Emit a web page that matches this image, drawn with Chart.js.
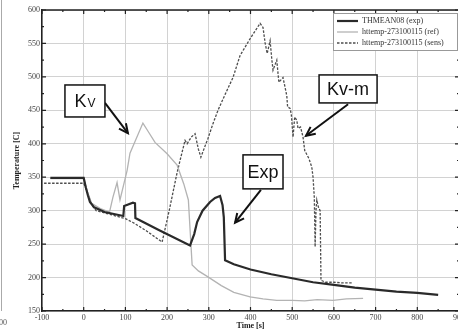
<!DOCTYPE html>
<html>
<head>
<meta charset="utf-8">
<script src="https://cdn.jsdelivr.net/npm/chart.js@4.4.1/dist/chart.umd.min.js"></script>
<style>
  html, body { margin: 0; padding: 0; background: #fff; overflow: hidden; }
  #wrap { width: 466px; height: 334px; }
</style>
</head>
<body>
<div id="wrap"><canvas id="tempChart" width="466" height="334"></canvas></div>
<script>
// values (time in s, temperature in C)
var expTime  = [-80, 0, 5, 10, 15, 25, 50, 95, 97, 118, 123, 124, 180, 255, 265, 272, 285, 303, 315, 327, 333, 336, 339, 360, 400, 450, 500, 550, 600, 650, 700, 750, 800, 850]
var expTemp  = [349, 349, 335, 323, 313, 305, 298, 292, 307, 312, 311, 289, 271, 248, 265, 283, 300, 313, 319, 322, 308, 290, 226, 220, 212, 205, 199, 193, 189, 185, 182, 179, 177, 174]

var refTime  = [-80, 0, 8, 19, 40, 62, 70, 80, 87, 104, 111, 142, 155, 171, 200, 224, 240, 251, 257, 260, 275, 298, 330, 360, 399, 430, 463, 500, 530, 560, 598, 630, 670]
var refTemp  = [348, 348, 330, 311, 303, 298, 320, 342, 316, 360, 386, 431, 418, 402, 385, 368, 340, 316, 251, 219, 210, 201, 188, 178, 171, 168, 166, 166, 165, 167, 166, 168, 169]

var sensTime = [-95, 0, 10, 20, 30, 60, 100, 119, 150, 188, 205, 224, 235, 243, 248, 258, 267, 275, 281, 290, 298, 310, 322, 340, 358, 375, 399, 423, 430, 435, 440, 447, 451, 454, 463, 468, 478, 487, 489, 495, 498, 502, 506, 511, 514, 520, 526, 530, 540, 547, 550, 553, 555, 557, 559, 563, 567, 569, 580, 600, 620, 645]
var sensTemp = [341, 341, 325, 308, 300, 295, 288, 282, 270, 253, 300, 357, 385, 405, 400, 410, 415, 392, 380, 395, 408, 430, 450, 475, 499, 532, 557, 580, 574, 551, 535, 554, 527, 510, 525, 492, 499, 472, 455, 453, 443, 410, 440, 435, 423, 425, 410, 390, 378, 365, 350, 320, 246, 300, 316, 305, 300, 196, 193, 193, 192, 192]

var seriesNames = ['THMEAN08 (exp)', 'httemp-273100115 (ref)', 'httemp-273100115 (sens)']

// call-out boxes, anchored in data units
var callouts = [
  { text: 'K', sub: 'V', cx: 3, cy: 464, w: 40, h: 32, tailX: 51, tailY: 461, tipX: 106, tipY: 416 },
  { text: 'Exp', cx: 430, cy: 358, w: 40, h: 34, tailX: 425, tailY: 331, tipX: 363, tipY: 282 },
  { text: 'Kv-m', cx: 634, cy: 482, w: 58, h: 28, tailX: 634, tailY: 459, tipX: 533, tipY: 412 }
]

function pts(xs, ys) {
  return xs.map(function (x, i) { return { x: x, y: ys[i] } })
}

var serif = 'Liberation Serif'

// inward tick marks on the frame + top/right border
var frameTicks = {
  id: 'frameTicks',
  afterDraw: function (chart) {
    var ctx = chart.ctx, a = chart.chartArea
    var xs = chart.scales.x, ys = chart.scales.y
    ctx.save()
    ctx.strokeStyle = '#222'
    ctx.lineWidth = 1.3
    ctx.beginPath()
    ctx.moveTo(a.left, a.top); ctx.lineTo(a.right, a.top); ctx.lineTo(a.right, a.bottom)
    ctx.stroke()
    ctx.lineWidth = 1.2
    ctx.beginPath()
    xs.ticks.forEach(function (t) {
      var px = xs.getPixelForValue(t.value)
      var len = t.value % 100 === 0 ? 4 : 2
      ctx.moveTo(px, a.bottom); ctx.lineTo(px, a.bottom - len)
      ctx.moveTo(px, a.top); ctx.lineTo(px, a.top + len)
    })
    ys.ticks.forEach(function (t) {
      var py = ys.getPixelForValue(t.value)
      var len = t.value % 50 === 0 ? 4 : 2
      ctx.moveTo(a.left, py); ctx.lineTo(a.left + len, py)
      ctx.moveTo(a.right, py); ctx.lineTo(a.right - len, py)
    })
    ctx.stroke()

    // cropped neighbour figure edge
    ctx.strokeStyle = '#aaa'
    ctx.lineWidth = 1
    ctx.beginPath(); ctx.moveTo(1.5, 0); ctx.lineTo(1.5, 311); ctx.stroke()
    ctx.fillStyle = '#555'
    ctx.font = '8px ' + serif
    ctx.textBaseline = 'middle'
    ctx.fillText('00', -1, 323)
    ctx.restore()
  }
}

// legend box in the upper right corner
var boxLegend = {
  id: 'boxLegend',
  afterDraw: function (chart) {
    var ctx = chart.ctx, a = chart.chartArea
    var w = 124, h = 37
    var left = a.right - 2 - w, top = a.top + 3
    ctx.save()
    ctx.fillStyle = '#fff'
    ctx.fillRect(left, top, w, h)
    ctx.strokeStyle = '#999'
    ctx.lineWidth = 1
    ctx.strokeRect(left + 0.5, top + 0.5, w, h)
    chart.data.datasets.forEach(function (ds, i) {
      var y = top + 8 + i * 11
      ctx.strokeStyle = ds.borderColor
      ctx.lineWidth = ds.borderWidth
      ctx.setLineDash(ds.borderDash || [])
      ctx.beginPath(); ctx.moveTo(left + 4, y); ctx.lineTo(left + 25, y); ctx.stroke()
      ctx.setLineDash([])
      ctx.fillStyle = '#333'
      ctx.font = '8px ' + serif
      ctx.textBaseline = 'middle'
      ctx.fillText(ds.label, left + 29, y)
    })
    ctx.restore()
  }
}

// labelled boxes with arrows
var calloutPlugin = {
  id: 'calloutPlugin',
  afterDraw: function (chart) {
    var ctx = chart.ctx, xs = chart.scales.x, ys = chart.scales.y
    ctx.save()
    callouts.forEach(function (c) {
      var cx = xs.getPixelForValue(c.cx), cy = ys.getPixelForValue(c.cy)
      var x0 = xs.getPixelForValue(c.tailX), y0 = ys.getPixelForValue(c.tailY)
      var x1 = xs.getPixelForValue(c.tipX), y1 = ys.getPixelForValue(c.tipY)
      // arrow
      ctx.strokeStyle = '#111'
      ctx.lineWidth = 2
      ctx.beginPath(); ctx.moveTo(x0, y0); ctx.lineTo(x1, y1); ctx.stroke()
      var ang = Math.atan2(y1 - y0, x1 - x0), hl = 10, spread = 0.45
      ctx.beginPath()
      ctx.moveTo(x1 - hl * Math.cos(ang - spread), y1 - hl * Math.sin(ang - spread))
      ctx.lineTo(x1, y1)
      ctx.lineTo(x1 - hl * Math.cos(ang + spread), y1 - hl * Math.sin(ang + spread))
      ctx.stroke()
      // box
      ctx.fillStyle = '#fff'
      ctx.fillRect(cx - c.w / 2, cy - c.h / 2, c.w, c.h)
      ctx.lineWidth = 1.5
      ctx.strokeRect(cx - c.w / 2, cy - c.h / 2, c.w, c.h)
      ctx.fillStyle = '#111'
      ctx.textBaseline = 'alphabetic'
      ctx.font = '18px Liberation Sans'
      var tw = ctx.measureText(c.text).width
      var sw = 0
      if (c.sub) {
        ctx.font = '12px Liberation Sans'
        sw = ctx.measureText(c.sub).width + 1
      }
      var startX = cx - (tw + sw) / 2, base = cy + 6.5
      ctx.font = '18px Liberation Sans'
      ctx.fillText(c.text, startX, base)
      if (c.sub) {
        ctx.font = '12px Liberation Sans'
        ctx.fillText(c.sub, startX + tw + 1, base)
      }
    })
    ctx.restore()
  }
}

var chartData = {
  datasets: [
    {
      label: seriesNames[0],
      data: pts(expTime, expTemp),
      borderColor: '#2a2a2a',
      borderWidth: 2.2
    },
    {
      label: seriesNames[1],
      data: pts(refTime, refTemp),
      borderColor: '#b3b3b3',
      borderWidth: 1.3
    },
    {
      label: seriesNames[2],
      data: pts(sensTime, sensTemp),
      borderColor: '#4d4d4d',
      borderWidth: 1.3,
      borderDash: [2.5, 1.5]
    }
  ]
}

var tickFont = { family: serif, size: 8 }

new Chart(document.getElementById('tempChart'), {
  type: 'line',
  data: chartData,
  options: {
    responsive: false,
    animation: false,
    layout: { padding: { left: 0, right: 7, top: 10, bottom: 0 } },
    elements: { point: { radius: 0 }, line: { tension: 0 } },
    plugins: { legend: { display: false }, tooltip: { enabled: false } },
    scales: {
      x: {
        type: 'linear',
        min: -100,
        max: 900,
        ticks: {
          stepSize: 50,
          autoSkip: false,
          maxRotation: 0,
          padding: 2,
          color: '#444',
          font: tickFont,
          callback: function (v) { return v % 100 === 0 ? v : '' }
        },
        grid: {
          drawTicks: false,
          lineWidth: 1,
          color: function (c) { return c.tick && c.tick.value % 100 === 0 ? '#d2d2d2' : 'rgba(0,0,0,0)' }
        },
        border: { display: true, color: '#222', width: 1.5 },
        title: {
          display: true,
          text: 'Time [s]',
          color: '#222',
          font: { family: serif, size: 8, weight: 'bold' },
          padding: { top: 0, bottom: 3 }
        },
        afterFit: function (s) { s.height = 23; s.paddingLeft = 0; s.paddingRight = 0 }
      },
      y: {
        min: 150,
        max: 600,
        ticks: {
          stepSize: 25,
          autoSkip: false,
          padding: 2,
          color: '#444',
          font: tickFont,
          callback: function (v) { return v % 50 === 0 ? v : '' }
        },
        grid: {
          drawTicks: false,
          lineWidth: 1,
          color: function (c) { return c.tick && c.tick.value % 50 === 0 ? '#d2d2d2' : 'rgba(0,0,0,0)' }
        },
        border: { display: true, color: '#222', width: 1.5 },
        title: {
          display: true,
          text: 'Temperature [C]',
          color: '#222',
          font: { family: serif, size: 8, weight: 'bold' },
          padding: { top: 12, bottom: 0 }
        },
        afterFit: function (s) { s.width = 42; s.paddingTop = 0; s.paddingBottom = 0 }
      }
    }
  },
  plugins: [frameTicks, boxLegend, calloutPlugin]
})
</script>
</body>
</html>
